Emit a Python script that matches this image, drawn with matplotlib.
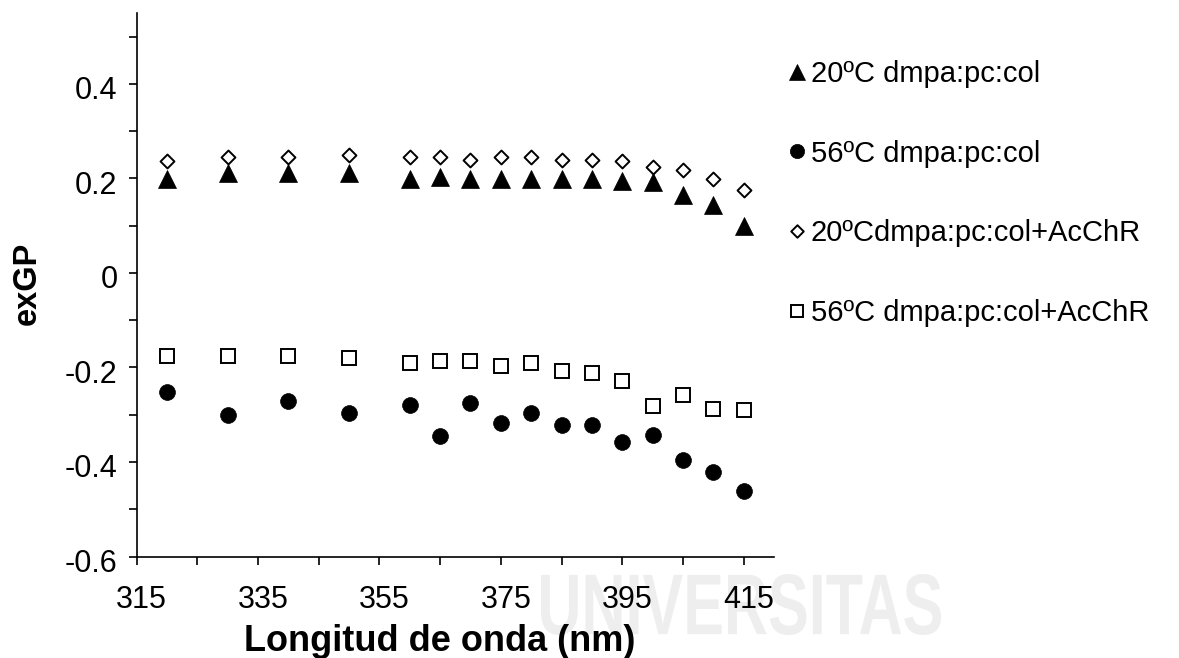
import matplotlib
matplotlib.use("Agg")
import matplotlib.pyplot as plt
from matplotlib.ticker import FixedLocator
from matplotlib.textpath import TextPath
from matplotlib.patches import PathPatch
from matplotlib.font_manager import FontProperties
from matplotlib.transforms import Affine2D, IdentityTransform, ScaledTranslation
from matplotlib.path import Path

plt.rcParams['font.family'] = ['Liberation Sans', 'DejaVu Sans']

# ---- data ----
wavelength = [320, 330, 340, 350, 360, 365, 370, 375, 380, 385, 390, 395, 400, 405, 410, 415]
t20 = [0.199, 0.211, 0.211, 0.212, 0.199, 0.203, 0.198, 0.198, 0.198, 0.198, 0.198, 0.195, 0.192, 0.165, 0.144, 0.099]
t56 = [-0.251, -0.300, -0.272, -0.297, -0.279, -0.346, -0.275, -0.317, -0.296, -0.321, -0.321, -0.357, -0.342, -0.396, -0.422, -0.462]
t20_achr = [0.237, 0.246, 0.246, 0.250, 0.246, 0.246, 0.240, 0.246, 0.246, 0.240, 0.240, 0.237, 0.225, 0.217, 0.199, 0.175]
t56_achr = [-0.175, -0.175, -0.175, -0.179, -0.191, -0.187, -0.187, -0.196, -0.191, -0.208, -0.212, -0.228, -0.282, -0.258, -0.287, -0.291]
labels = ["20ºC dmpa:pc:col", "56ºC dmpa:pc:col", "20ºCdmpa:pc:col+AcChR", "56ºC dmpa:pc:col+AcChR"]
x_ticklabels = [315, 335, 355, 375, 395, 415]
x_minor = [325, 345, 365, 385, 405]
y_ticklabels = [-0.6, -0.4, -0.2, 0, 0.2, 0.4]
y_minor = [-0.5, -0.3, -0.1, 0.1, 0.3, 0.5]

W, H = 1179, 658
fig = plt.figure(figsize=(W / 100, H / 100), dpi=100)
fig.patch.set_facecolor('white')

# faint watermark (condensed bold text)
tp = TextPath((0, 0), "UNIVERSITAS", size=100,
              prop=FontProperties(family='Liberation Sans', weight='bold'))
bb = tp.get_extents()
tr = (Affine2D().translate(-bb.x0, -bb.y0)
      .scale(400 / bb.width, 61 / bb.height)
      .translate(541, H - 635))
wm = PathPatch(tr.transform_path(tp), facecolor='#eeeeee', edgecolor='none',
               transform=IdentityTransform(), zorder=0)
fig.add_artist(wm)

ax = fig.add_axes([136.5 / W, 1 - 556.5 / H, (774 - 136.5) / W, (556.5 - 13) / H])
ax.patch.set_alpha(0)

diamond = Path([(0, 1), (1, 0), (0, -1), (-1, 0), (0, 1)],
               [Path.MOVETO, Path.LINETO, Path.LINETO, Path.LINETO, Path.CLOSEPOLY])

h1, = ax.plot(wavelength, t20, linestyle='none', marker='^', markersize=13,
              markeredgewidth=0.5, color='black', label=labels[0])
h2, = ax.plot(wavelength, t56, linestyle='none', marker='o', markersize=11.4,
              markeredgewidth=0.5, color='black', label=labels[1])
h3, = ax.plot(wavelength, t20_achr, linestyle='none', marker=diamond, markersize=10,
              markerfacecolor='white', markeredgecolor='black', markeredgewidth=1.4,
              label=labels[2])
h4, = ax.plot(wavelength, t56_achr, linestyle='none', marker='s', markersize=9.8,
              markerfacecolor='white', markeredgecolor='black', markeredgewidth=1.4,
              label=labels[3])

ax.set_xlim(315, 420)
ax.set_ylim(-0.6, 0.55)

ax.xaxis.set_major_locator(FixedLocator(x_ticklabels))
ax.set_xticklabels([str(v) for v in x_ticklabels])
ax.xaxis.set_minor_locator(FixedLocator(x_minor))
ax.yaxis.set_major_locator(FixedLocator(y_ticklabels))
ax.set_yticklabels(["-0.6", "-0.4", "-0.2", "0", "0.2", "0.4"])
ax.yaxis.set_minor_locator(FixedLocator(y_minor))

for s in ['top', 'right']:
    ax.spines[s].set_visible(False)
for s in ['left', 'bottom']:
    ax.spines[s].set_linewidth(1.2)

ax.tick_params(axis='both', which='both', direction='out', length=5.8, width=1.2,
               labelsize=22, colors='black')
ax.tick_params(axis='x', which='major', pad=15)
ax.tick_params(axis='y', which='major', pad=7.9)

# the original chart draws its tick labels slightly right / below the ticks
for lab in ax.get_xticklabels():
    lab.set_transform(lab.get_transform() + ScaledTranslation(5 / 100, 0, fig.dpi_scale_trans))
for lab in ax.get_yticklabels():
    lab.set_transform(lab.get_transform() + ScaledTranslation(0, -4 / 100, fig.dpi_scale_trans))

fig.text(440 / W, 1 - 651 / H, "Longitud de onda (nm)", fontsize=26, fontweight='bold',
         ha='center', va='baseline')
fig.text(27 / W, 1 - 283.5 / H, "exGP", fontsize=23.5, fontweight='bold',
         ha='center', va='center', rotation=90)

leg = fig.legend(handles=[h1, h2, h3, h4], loc='upper left',
                 bbox_to_anchor=(788.3 / W, 1 - 60 / H), frameon=False,
                 fontsize=21, markerscale=0.9, handlelength=0.6,
                 handletextpad=0.165, labelspacing=1.77, borderpad=0,
                 borderaxespad=0)

fig.savefig("out.png", dpi=100, facecolor='white')
